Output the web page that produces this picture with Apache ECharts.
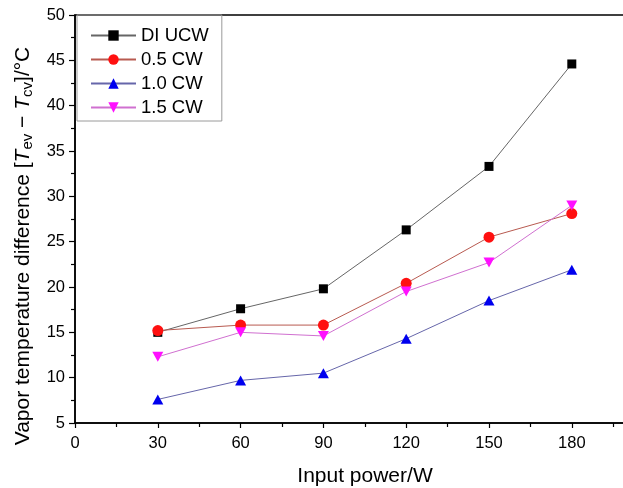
<!DOCTYPE html>
<html>
<head>
<meta charset="utf-8">
<script src="https://cdn.jsdelivr.net/npm/echarts@6/dist/echarts.min.js"></script>
<style>
  html, body { margin: 0; padding: 0; background: #fff; }
  #chart { width: 623px; height: 488px; }
</style>
</head>
<body>
<div id="chart"></div>
<script>
// Input power levels (W)
const powers = [30, 60, 90, 120, 150, 180];

// Vapor temperature difference (°C) for each working fluid
const diUcw = [15.0, 17.6, 19.8, 26.3, 33.3, 44.6];
const cw05  = [15.2, 15.8, 15.8, 20.4, 25.5, 28.1];
const cw10  = [7.6, 9.7, 10.5, 14.3, 18.5, 21.9];
const cw15  = [12.3, 15.0, 14.6, 19.5, 22.7, 29.0];

const seriesNames = ['DI UCW', '0.5 CW', '1.0 CW', '1.5 CW'];

const FONT = '"Liberation Sans", Arial, Helvetica, sans-serif';

function pairs(vals) {
  return powers.map((p, i) => [p, vals[i]]);
}

const downTri = 'path://M0,0 L10,0 L5,9 Z';

const chart = echarts.init(document.getElementById('chart'), null, { renderer: 'canvas' });

chart.setOption({
  backgroundColor: '#fff',
  animation: false,
  grid: {
    left: 75, top: 15, right: -4, bottom: 65,
    outerBoundsMode: 'none', containLabel: false,
    show: true, borderColor: '#000', borderWidth: 1.5, backgroundColor: 'transparent'
  },
  legend: {
    orient: 'vertical',
    left: 77, top: 15,
    padding: [11, 13, 4, 13],
    borderColor: '#9a9a9a', borderWidth: 1,
    itemWidth: 45, itemHeight: 13, itemGap: 5,
    textStyle: { fontFamily: FONT, fontSize: 18.5, color: '#000' },
    data: seriesNames
  },
  xAxis: {
    type: 'value', min: 0, max: 200, interval: 30,
    name: 'Input power/W', nameLocation: 'middle', nameGap: 43,
    nameTextStyle: { fontFamily: FONT, fontSize: 21, color: '#000', padding: [0, 0, 0, 28] },
    axisLine: { show: true, onZero: false, lineStyle: { color: '#000', width: 1.5 } },
    axisTick: { show: true, inside: false, length: 5, lineStyle: { color: '#000', width: 1.2 } },
    minorTick: { show: true, splitNumber: 2, length: 4, lineStyle: { color: '#000', width: 1.2 } },
    axisLabel: { fontFamily: FONT, fontSize: 16.5, color: '#000', margin: 12, showMaxLabel: false },
    splitLine: { show: false }
  },
  yAxis: {
    type: 'value', min: 5, max: 50, interval: 5,
    name: '{n|Vapor temperature difference [}{i|T}{s|ev}{n| − }{i|T}{s|cv}{n|]/°C}',
    nameLocation: 'middle', nameGap: 40, nameRotate: 90,
    nameTextStyle: {
      fontFamily: FONT, fontSize: 21, color: '#000',
      padding: [0, 54, 0, 0],
      rich: {
        n: { fontFamily: FONT, fontSize: 21, color: '#000' },
        i: { fontFamily: FONT, fontSize: 21, color: '#000', fontStyle: 'italic' },
        s: { fontFamily: FONT, fontSize: 15, color: '#000', verticalAlign: 'bottom', padding: [8, 0, 0, 0] }
      }
    },
    axisLine: { show: true, lineStyle: { color: '#000', width: 1.5 } },
    axisTick: { show: true, inside: false, length: 6, lineStyle: { color: '#000', width: 1.2 } },
    minorTick: { show: true, splitNumber: 2, length: 4, lineStyle: { color: '#000', width: 1.2 } },
    axisLabel: { fontFamily: FONT, fontSize: 16.5, color: '#000', margin: 10 },
    splitLine: { show: false }
  },
  series: [
    {
      name: 'DI UCW', type: 'line', data: pairs(diUcw),
      symbol: 'rect', symbolSize: 9,
      itemStyle: { color: '#000' },
      lineStyle: { color: '#666', width: 1 }
    },
    {
      name: '0.5 CW', type: 'line', data: pairs(cw05),
      symbol: 'circle', symbolSize: 11,
      itemStyle: { color: '#ff1010' },
      lineStyle: { color: '#b85a50', width: 1 }
    },
    {
      name: '1.0 CW', type: 'line', data: pairs(cw10),
      symbol: 'triangle', symbolSize: [11, 10],
      itemStyle: { color: '#0000ee' },
      lineStyle: { color: '#6666aa', width: 1 }
    },
    {
      name: '1.5 CW', type: 'line', data: pairs(cw15),
      symbol: downTri, symbolSize: [11, 10],
      itemStyle: { color: '#ff10ff' },
      lineStyle: { color: '#d070d0', width: 1 }
    }
  ]
});
</script>
</body>
</html>
